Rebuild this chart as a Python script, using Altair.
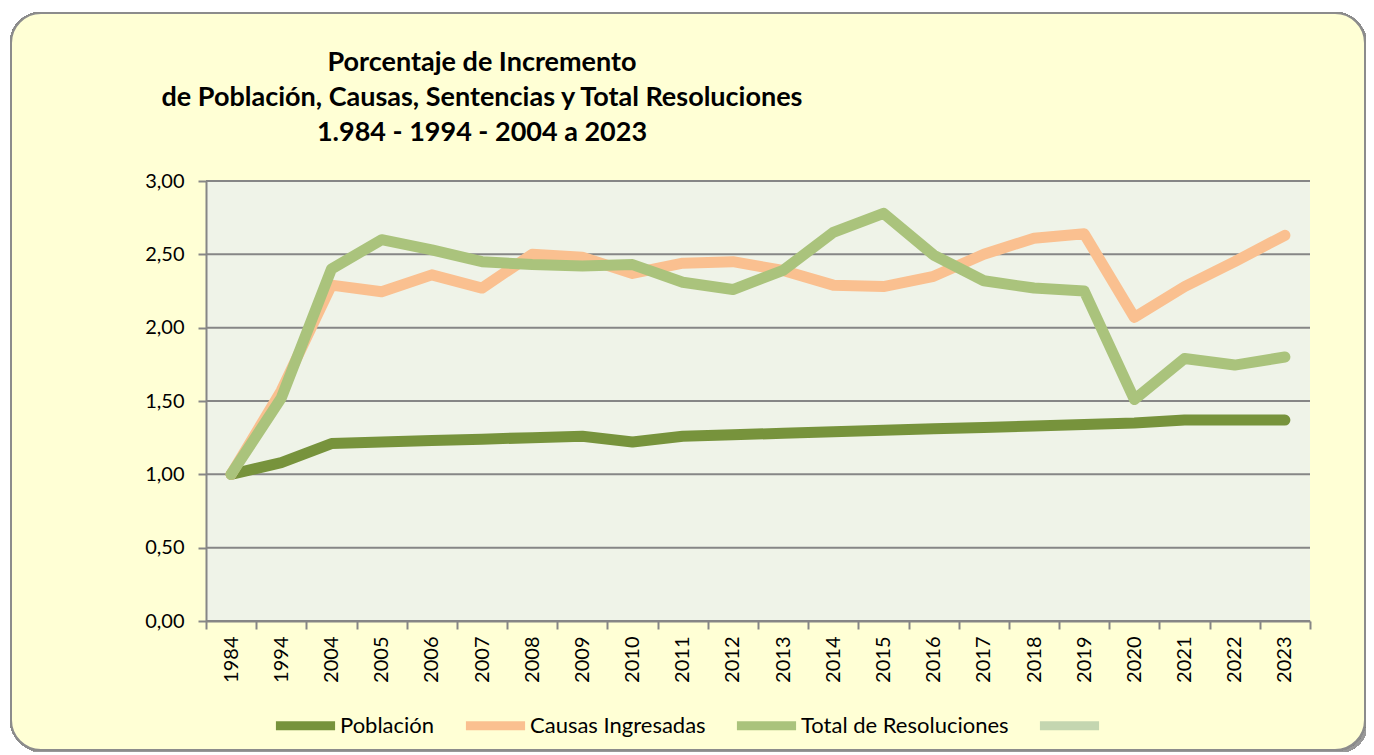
import altair as alt
import pandas as pd

years = ["1984", "1994", "2004", "2005", "2006", "2007", "2008", "2009", "2010", "2011",
         "2012", "2013", "2014", "2015", "2016", "2017", "2018", "2019", "2020", "2021",
         "2022", "2023"]
poblacion = [1.00, 1.08, 1.21, 1.22, 1.23, 1.24, 1.25, 1.26, 1.22, 1.26, 1.27, 1.28,
             1.29, 1.30, 1.31, 1.32, 1.33, 1.34, 1.35, 1.37, 1.37, 1.37]
causas = [1.00, 1.57, 2.29, 2.245, 2.36, 2.27, 2.50, 2.48, 2.37, 2.44, 2.45, 2.39,
          2.29, 2.28, 2.35, 2.50, 2.61, 2.64, 2.07, 2.28, 2.45, 2.63]
total = [1.00, 1.52, 2.40, 2.60, 2.53, 2.45, 2.43, 2.42, 2.43, 2.31, 2.26, 2.39,
         2.65, 2.78, 2.495, 2.32, 2.27, 2.25, 1.51, 1.79, 1.745, 1.80]
series_names = ["Población", "Causas Ingresadas", "Total de Resoluciones", " "]
series_colors = ["#77933C", "#FAC090", "#AAC37C", "#C4D6B0"]
y_ticks = [0, 0.5, 1.0, 1.5, 2.0, 2.5, 3.0]
title_lines = ["Porcentaje de Incremento",
               "de Población, Causas, Sentencias y Total Resoluciones",
               "1.984 - 1994 - 2004 a 2023"]

W, H = 1104, 440
rows = []
for name, vals in zip(series_names[:3], [poblacion, causas, total]):
    for yr, v in zip(years, vals):
        rows.append({"year": yr, "value": v, "serie": name})
df = pd.DataFrame(rows)
grid_df = pd.DataFrame({"v": y_ticks})

color = alt.Color("serie:N", scale=alt.Scale(domain=series_names, range=series_colors),
                  legend=alt.Legend(title=None, orient="none", direction="horizontal",
                                    legendX=65, legendY=510, symbolType="stroke",
                                    symbolStrokeWidth=9, symbolSize=3500,
                                    labelFont="Lato", labelFontSize=22, labelColor="#000000",
                                    labelOffset=0, columnPadding=12, labelLimit=400,
                                    zindex=1))

x_enc = alt.X("year:N", sort=years, bandPosition=0.5,
              scale=alt.Scale(type="band", paddingInner=0, paddingOuter=0),
              axis=alt.Axis(title=None, labelAngle=270, labelFont="Lato", labelFontSize=20,
                            labelColor="#000000", labelPadding=7, tickBand="extent",
                            tickSize=8, tickColor="#868686", tickWidth=2,
                            domainColor="#868686", domainWidth=2, grid=False, zindex=1))
y_scale = alt.Scale(domain=[0, 3], nice=False)
y_axis = alt.Axis(title=None, values=y_ticks, labelFont="Lato", labelFontSize=20,
                  labelColor="#000000", labelPadding=14,
                  labelExpr="replace(format(datum.value, '.2f'), '.', ',')",
                  tickSize=8, tickColor="#868686", tickWidth=2,
                  domainColor="#868686", domainWidth=2, grid=False, zindex=1)
y_enc = alt.Y("value:Q", scale=y_scale, axis=y_axis)

base = alt.Chart(df)

shadow = base.mark_rect(cornerRadius=30, fill="#9a9a9a", opacity=0.45).encode(
    x=alt.value(-192), x2=alt.value(1162), y=alt.value(-165), y2=alt.value(572))
frame = base.mark_rect(cornerRadius=30, fill="#FFFFD5", stroke="#8c8c8c", strokeWidth=2).encode(
    x=alt.value(-195), x2=alt.value(1159), y=alt.value(-168), y2=alt.value(569))
plotbg = base.mark_rect(fill="#EFF3E8").encode(
    x=alt.value(0), x2=alt.value(W), y=alt.value(0), y2=alt.value(H))
grid = alt.Chart(grid_df).mark_rule(color="#868686", strokeWidth=2).encode(
    y=alt.Y("v:Q", scale=y_scale, axis=y_axis))

def line_for(name):
    return base.transform_filter(alt.datum.serie == name).mark_line(
        strokeWidth=11, strokeCap="round", strokeJoin="round").encode(
        x=x_enc, y=y_enc, color=color)

lines = [line_for(n) for n in series_names[:3]]

chart = alt.layer(shadow, frame, plotbg, grid, *lines).properties(
    width=W, height=H,
    title=alt.TitleParams(text=title_lines, font="Lato", fontSize=27, fontWeight="bold",
                          color="#000000", anchor="middle", frame="group", dx=-276,
                          lineHeight=35, offset=-135, zindex=1),
    autosize=alt.AutoSizeParams(type="none"),
    padding={"left": 198, "top": 173, "right": 56, "bottom": 131},
).configure_view(stroke=None).configure(background="#FFFFFF")

chart.save("out.html", embed_options={"renderer": "svg", "actions": False})
